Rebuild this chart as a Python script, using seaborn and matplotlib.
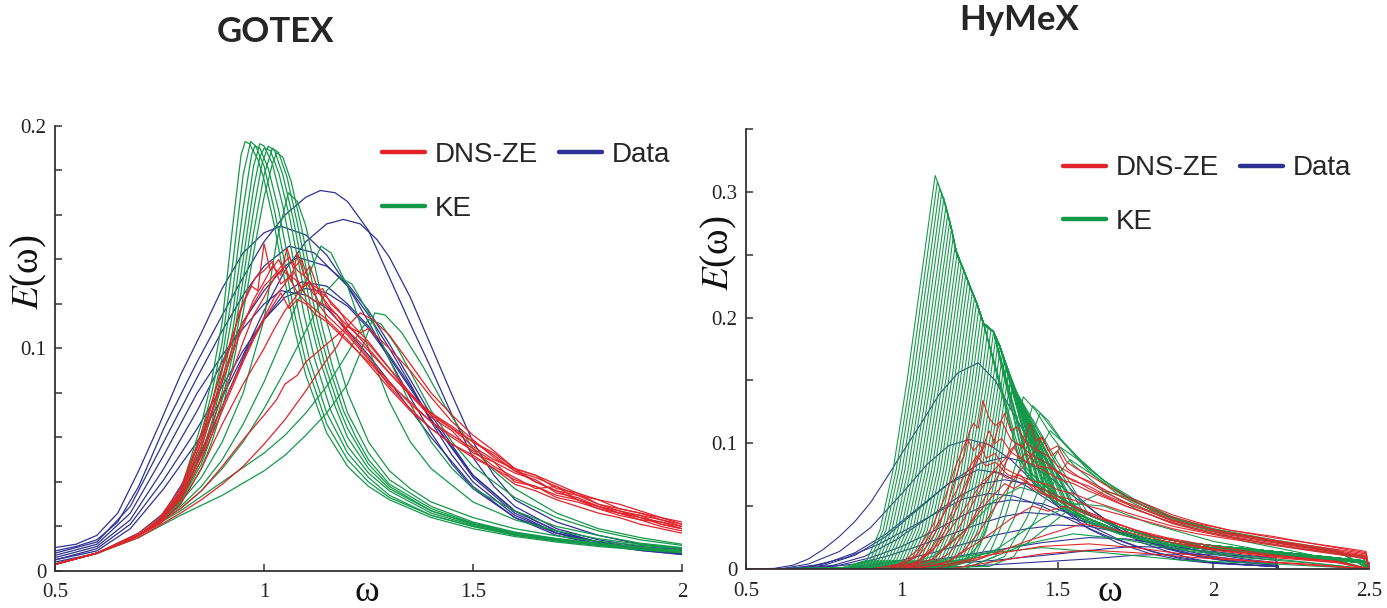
import numpy as np
import pandas as pd
import matplotlib
matplotlib.use("Agg")
import matplotlib.pyplot as plt
from matplotlib.lines import Line2D
from matplotlib.ticker import MultipleLocator
import seaborn as sns

# =========================
# Data: (omega, E) knots per curve
# =========================

RED = "#e2232a"
BLUE = "#2e3192"
GREEN = "#13994a"

# ---- GOTEX (left panel) ----
gotex_data = [
    [(0.5,.0105),(0.55,.012),(0.6,.016),(0.65,.026),(0.7,.045),(0.75,.066),(0.8,.088),(0.85,.107),(0.9,.127),(0.95,.143),(1.0,.152),(1.04,.155),(1.1,.151),(1.15,.142),(1.2,.128),(1.25,.112),(1.3,.095),(1.35,.078),(1.4,.062),(1.45,.048),(1.5,.037),(1.6,.024),(1.7,.017),(1.8,.013),(1.9,.0105),(2.0,.0088)],
    [(0.5,.009),(0.55,.011),(0.6,.014),(0.65,.022),(0.7,.038),(0.76,.064),(0.8,.079),(0.84,.094),(0.9,.115),(0.95,.132),(1.0,.148),(1.05,.16),(1.1,.168),(1.135,.171),(1.17,.17),(1.2,.166),(1.25,.153),(1.3,.132),(1.35,.111),(1.4,.091),(1.45,.07),(1.5,.051),(1.55,.038),(1.6,.029),(1.7,.019),(1.8,.014),(1.9,.011),(2.0,.0095)],
    [(0.5,.005),(0.6,.009),(0.68,.019),(0.76,.037),(0.84,.058),(0.9,.078),(0.95,.097),(1.0,.117),(1.05,.135),(1.1,.148),(1.15,.156),(1.19,.158),(1.23,.156),(1.27,.149),(1.3,.141),(1.35,.123),(1.4,.101),(1.45,.079),(1.5,.058),(1.55,.043),(1.6,.032),(1.7,.022),(1.8,.016),(1.9,.012),(2.0,.0098)],
    [(0.5,.008),(0.6,.013),(0.68,.029),(0.76,.058),(0.84,.087),(0.9,.108),(0.95,.124),(1.0,.137),(1.06,.146),(1.12,.143),(1.2,.128),(1.25,.115),(1.3,.1),(1.35,.084),(1.4,.067),(1.45,.052),(1.5,.04),(1.6,.025),(1.7,.017),(1.8,.013),(1.9,.01),(2.0,.0082)],
    [(0.5,.006),(0.6,.011),(0.68,.023),(0.76,.046),(0.84,.072),(0.9,.094),(0.95,.112),(1.0,.126),(1.05,.137),(1.08,.141),(1.15,.137),(1.2,.129),(1.25,.117),(1.3,.102),(1.35,.086),(1.4,.07),(1.5,.043),(1.6,.027),(1.7,.018),(1.8,.013),(1.9,.0102),(2.0,.0082)],
    [(0.5,.005),(0.6,.01),(0.68,.021),(0.76,.041),(0.84,.064),(0.9,.083),(0.95,.099),(1.0,.113),(1.05,.125),(1.09,.13),(1.15,.128),(1.2,.12),(1.25,.11),(1.3,.097),(1.35,.083),(1.4,.068),(1.5,.042),(1.6,.026),(1.7,.017),(1.8,.012),(1.9,.0092),(2.0,.0074)],
    [(0.5,.007),(0.6,.012),(0.68,.026),(0.76,.052),(0.84,.08),(0.9,.097),(0.95,.109),(1.0,.12),(1.04,.126),(1.1,.124),(1.15,.118),(1.2,.108),(1.25,.097),(1.3,.085),(1.4,.06),(1.5,.038),(1.6,.024),(1.7,.016),(1.8,.012),(1.9,.0093),(2.0,.0075)],
    [(0.5,.004),(0.6,.008),(0.7,.017),(0.76,.026),(0.84,.05),(0.9,.074),(0.96,.1),(1.0,.113),(1.05,.123),(1.1,.127),(1.15,.125),(1.2,.119),(1.25,.109),(1.3,.096),(1.4,.068),(1.5,.043),(1.6,.027),(1.7,.018),(1.8,.013),(1.9,.01),(2.0,.0078)],
]

gotex_ke = [
    [(0.5,.003),(0.6,.008),(0.7,.016),(0.75,.022),(0.8,.036),(0.85,.066),(0.875,.086),(0.9,.112),(0.925,.155),(0.945,.187),(0.955,.193),(0.965,.192),(0.985,.185),(1.0,.176),(1.025,.155),(1.05,.13),(1.075,.107),(1.1,.088),(1.15,.062),(1.2,.047),(1.25,.038),(1.3,.032),(1.4,.024),(1.5,.019),(1.6,.0155),(1.7,.013),(1.8,.011),(1.9,.0095),(2.0,.0082)],
    [(0.5,.003),(0.6,.008),(0.7,.016),(0.75,.022),(0.8,.035),(0.85,.062),(0.875,.08),(0.9,.103),(0.925,.138),(0.95,.178),(0.968,.193),(0.98,.191),(1.0,.182),(1.025,.162),(1.05,.138),(1.075,.114),(1.1,.094),(1.15,.066),(1.2,.05),(1.25,.04),(1.3,.033),(1.4,.025),(1.5,.02),(1.6,.016),(1.7,.0135),(1.8,.0115),(1.9,.0098),(2.0,.0085)],
    [(0.5,.003),(0.6,.008),(0.7,.016),(0.75,.022),(0.8,.034),(0.85,.058),(0.875,.075),(0.9,.096),(0.925,.126),(0.95,.163),(0.97,.187),(0.978,.191),(0.99,.19),(1.01,.181),(1.035,.162),(1.06,.138),(1.085,.114),(1.11,.094),(1.15,.071),(1.2,.053),(1.25,.042),(1.3,.034),(1.4,.025),(1.5,.02),(1.6,.0162),(1.7,.0136),(1.8,.0116),(1.9,.01),(2.0,.0086)],
    [(0.5,.003),(0.6,.008),(0.7,.016),(0.75,.022),(0.8,.033),(0.85,.055),(0.875,.071),(0.9,.09),(0.925,.116),(0.95,.15),(0.975,.182),(0.99,.192),(1.0,.191),(1.02,.183),(1.045,.164),(1.07,.14),(1.095,.116),(1.12,.096),(1.16,.072),(1.2,.056),(1.25,.044),(1.3,.036),(1.4,.026),(1.5,.0205),(1.6,.0165),(1.7,.0138),(1.8,.0118),(1.9,.0101),(2.0,.0087)],
    [(0.5,.003),(0.6,.008),(0.7,.016),(0.75,.022),(0.8,.032),(0.85,.052),(0.875,.067),(0.9,.085),(0.925,.108),(0.95,.14),(0.975,.172),(0.99,.186),(1.0,.19),(1.015,.189),(1.035,.179),(1.06,.16),(1.085,.136),(1.11,.113),(1.135,.094),(1.17,.074),(1.2,.06),(1.25,.046),(1.3,.037),(1.4,.027),(1.5,.021),(1.6,.0168),(1.7,.014),(1.8,.012),(1.9,.0103),(2.0,.0089)],
    [(0.5,.003),(0.6,.008),(0.7,.016),(0.75,.022),(0.8,.031),(0.85,.05),(0.875,.064),(0.9,.081),(0.925,.102),(0.95,.131),(0.975,.162),(0.995,.183),(1.01,.191),(1.025,.189),(1.045,.178),(1.07,.158),(1.095,.134),(1.12,.111),(1.145,.093),(1.18,.073),(1.2,.064),(1.25,.048),(1.3,.038),(1.4,.027),(1.5,.0212),(1.6,.017),(1.7,.0142),(1.8,.0121),(1.9,.0104),(2.0,.009)],
    [(0.5,.003),(0.6,.008),(0.7,.016),(0.75,.022),(0.8,.031),(0.85,.048),(0.875,.061),(0.9,.077),(0.925,.097),(0.95,.123),(0.975,.152),(1.0,.178),(1.02,.19),(1.035,.188),(1.055,.177),(1.08,.156),(1.105,.132),(1.13,.11),(1.155,.092),(1.19,.072),(1.22,.06),(1.25,.05),(1.3,.039),(1.4,.028),(1.5,.0215),(1.6,.0172),(1.7,.0144),(1.8,.0123),(1.9,.0105),(2.0,.0091)],
    [(0.5,.003),(0.6,.008),(0.7,.016),(0.75,.022),(0.8,.03),(0.85,.046),(0.875,.058),(0.9,.073),(0.925,.092),(0.95,.116),(0.975,.143),(1.0,.168),(1.02,.183),(1.03,.188),(1.045,.186),(1.065,.175),(1.09,.154),(1.115,.13),(1.14,.109),(1.165,.091),(1.2,.071),(1.25,.053),(1.3,.041),(1.4,.029),(1.5,.022),(1.6,.0175),(1.7,.0146),(1.8,.0125),(1.9,.0107),(2.0,.0093)],
    [(0.5,.003),(0.6,.008),(0.7,.016),(0.8,.031),(0.85,.042),(0.9,.058),(0.95,.08),(1.0,.113),(1.03,.148),(1.058,.17),(1.08,.166),(1.1,.155),(1.125,.134),(1.15,.112),(1.2,.08),(1.25,.058),(1.3,.045),(1.35,.037),(1.4,.031),(1.5,.024),(1.6,.019),(1.7,.0158),(1.8,.0133),(1.9,.0115),(2.0,.01)],
    [(0.5,.003),(0.6,.008),(0.7,.016),(0.8,.029),(0.85,.038),(0.9,.05),(0.95,.066),(1.0,.085),(1.05,.107),(1.1,.13),(1.136,.146),(1.16,.143),(1.2,.128),(1.25,.1),(1.3,.076),(1.35,.058),(1.4,.046),(1.5,.031),(1.6,.023),(1.7,.018),(1.8,.0145),(1.9,.012),(2.0,.0103)],
    [(0.5,.003),(0.6,.008),(0.7,.016),(0.8,.028),(0.85,.036),(0.9,.046),(0.95,.058),(1.0,.073),(1.05,.09),(1.1,.108),(1.15,.126),(1.18,.132),(1.21,.129),(1.25,.116),(1.3,.095),(1.35,.075),(1.4,.058),(1.45,.046),(1.5,.037),(1.6,.027),(1.7,.02),(1.8,.016),(1.9,.0125),(2.0,.0105)],
    [(0.5,.003),(0.6,.0078),(0.7,.015),(0.8,.025),(0.9,.034),(1.0,.045),(1.05,.052),(1.1,.061),(1.15,.071),(1.2,.084),(1.23,.098),(1.25,.108),(1.265,.116),(1.29,.115),(1.33,.107),(1.38,.092),(1.43,.075),(1.5,.055),(1.55,.045),(1.6,.037),(1.7,.026),(1.8,.019),(1.9,.015),(2.0,.012)],
    [(0.5,.003),(0.6,.008),(0.7,.016),(0.8,.027),(0.9,.04),(1.0,.053),(1.05,.061),(1.1,.071),(1.15,.083),(1.2,.098),(1.23,.108),(1.25,.113),(1.28,.111),(1.32,.1),(1.36,.086),(1.4,.072),(1.45,.058),(1.5,.047),(1.6,.033),(1.7,.024),(1.8,.018),(1.9,.014),(2.0,.0115)],
]

gotex_dns = [
    [(0.5,.003),(0.6,.008),(0.7,.016),(0.75,.023),(0.8,.036),(0.85,.06),(0.875,.075),(0.9,.092),(0.925,.106),(0.95,.12),(0.97,.128),(0.985,.126),(1.0,.147),(1.015,.135),(1.035,.14),(1.05,.134),(1.075,.131),(1.1,.124),(1.125,.121),(1.15,.115),(1.2,.106),(1.25,.095),(1.3,.085),(1.35,.075),(1.4,.067),(1.45,.06),(1.5,.054),(1.55,.047),(1.6,.042),(1.65,.037),(1.7,.038),(1.75,.032),(1.8,.029),(1.85,.026),(1.9,.025),(1.95,.021),(2.0,.019)],
    [(0.5,.003),(0.6,.008),(0.7,.016),(0.75,.022),(0.8,.034),(0.85,.056),(0.9,.085),(0.925,.098),(0.95,.11),(0.975,.122),(1.0,.13),(1.02,.137),(1.04,.133),(1.055,.145),(1.07,.136),(1.09,.14),(1.11,.129),(1.13,.127),(1.15,.119),(1.175,.115),(1.2,.108),(1.25,.099),(1.3,.089),(1.35,.079),(1.4,.071),(1.45,.064),(1.5,.058),(1.55,.052),(1.6,.045),(1.65,.042),(1.7,.038),(1.75,.034),(1.8,.032),(1.85,.028),(1.9,.026),(1.95,.024),(2.0,.021)],
    [(0.5,.003),(0.6,.008),(0.7,.016),(0.75,.022),(0.8,.033),(0.85,.053),(0.9,.079),(0.925,.09),(0.95,.103),(0.975,.115),(1.0,.123),(1.025,.132),(1.05,.137),(1.065,.13),(1.08,.143),(1.095,.133),(1.11,.137),(1.13,.126),(1.15,.123),(1.18,.117),(1.2,.111),(1.25,.1),(1.3,.089),(1.35,.079),(1.4,.069),(1.45,.063),(1.5,.053),(1.55,.049),(1.6,.04),(1.65,.038),(1.7,.033),(1.75,.031),(1.8,.028),(1.85,.025),(1.9,.023),(1.95,.02),(2.0,.018)],
    [(0.5,.003),(0.6,.008),(0.7,.016),(0.75,.022),(0.8,.032),(0.85,.05),(0.9,.072),(0.925,.083),(0.95,.094),(0.975,.104),(1.0,.113),(1.02,.119),(1.04,.125),(1.06,.118),(1.08,.122),(1.1,.12),(1.125,.115),(1.15,.112),(1.2,.103),(1.25,.094),(1.3,.084),(1.35,.076),(1.4,.067),(1.45,.061),(1.5,.055),(1.55,.049),(1.6,.044),(1.65,.041),(1.7,.035),(1.75,.033),(1.8,.029),(1.85,.027),(1.9,.024),(1.95,.022),(2.0,.02)],
    [(0.5,.003),(0.6,.008),(0.7,.016),(0.75,.023),(0.8,.035),(0.85,.058),(0.875,.072),(0.9,.087),(0.925,.1),(0.95,.112),(0.975,.12),(1.0,.128),(1.025,.133),(1.045,.138),(1.06,.141),(1.08,.135),(1.1,.132),(1.12,.127),(1.14,.123),(1.16,.118),(1.2,.11),(1.25,.102),(1.3,.091),(1.35,.079),(1.4,.071),(1.45,.065),(1.5,.058),(1.55,.053),(1.6,.046),(1.65,.043),(1.7,.039),(1.75,.035),(1.8,.032),(1.85,.03),(1.9,.027),(1.95,.024),(2.0,.022)],
    [(0.5,.003),(0.6,.008),(0.7,.016),(0.75,.022),(0.8,.033),(0.85,.052),(0.9,.074),(0.95,.095),(0.975,.105),(1.0,.114),(1.025,.123),(1.05,.129),(1.07,.135),(1.09,.127),(1.11,.13),(1.13,.121),(1.15,.119),(1.2,.107),(1.25,.096),(1.3,.083),(1.35,.073),(1.4,.064),(1.45,.057),(1.5,.051),(1.55,.046),(1.6,.039),(1.65,.036),(1.7,.032),(1.75,.029),(1.8,.026),(1.85,.024),(1.9,.021),(1.95,.019),(2.0,.017)],
    [(0.5,.003),(0.6,.008),(0.7,.016),(0.75,.021),(0.8,.03),(0.85,.046),(0.9,.066),(0.95,.084),(1.0,.1),(1.025,.109),(1.05,.117),(1.075,.123),(1.1,.13),(1.12,.124),(1.14,.127),(1.16,.12),(1.2,.113),(1.25,.103),(1.3,.091),(1.35,.08),(1.4,.07),(1.45,.064),(1.5,.056),(1.55,.05),(1.6,.046),(1.65,.04),(1.7,.036),(1.75,.034),(1.8,.03),(1.85,.027),(1.9,.025),(1.95,.023),(2.0,.02)],
    [(0.5,.003),(0.6,.008),(0.7,.015),(0.8,.026),(0.85,.032),(0.9,.039),(0.95,.047),(1.0,.057),(1.05,.068),(1.1,.081),(1.15,.095),(1.175,.101),(1.2,.11),(1.23,.116),(1.26,.113),(1.3,.106),(1.35,.093),(1.4,.08),(1.45,.07),(1.5,.061),(1.55,.054),(1.6,.046),(1.65,.043),(1.7,.037),(1.75,.035),(1.8,.03),(1.85,.028),(1.9,.026),(1.95,.023),(2.0,.021)],
    [(0.5,.003),(0.6,.008),(0.7,.016),(0.8,.028),(0.85,.036),(0.9,.047),(0.95,.059),(1.0,.07),(1.03,.077),(1.05,.084),(1.08,.088),(1.1,.094),(1.15,.102),(1.2,.11),(1.23,.107),(1.25,.109),(1.3,.1),(1.35,.09),(1.4,.078),(1.45,.067),(1.5,.059),(1.55,.051),(1.6,.045),(1.65,.04),(1.7,.036),(1.75,.032),(1.8,.029),(1.85,.026),(1.9,.023),(1.95,.022),(2.0,.019)],
    [(0.5,.003),(0.6,.008),(0.7,.017),(0.75,.024),(0.8,.037),(0.85,.062),(0.875,.076),(0.9,.091),(0.925,.104),(0.94,.116),(0.96,.125),(0.98,.132),(1.0,.135),(1.02,.139),(1.04,.129),(1.06,.132),(1.08,.125),(1.1,.121),(1.15,.113),(1.2,.104),(1.25,.093),(1.3,.082),(1.35,.072),(1.4,.064),(1.45,.057),(1.5,.052),(1.55,.046),(1.6,.041),(1.65,.038),(1.7,.034),(1.75,.032),(1.8,.028),(1.85,.026),(1.9,.024),(1.95,.021),(2.0,.019)],
]

# ---- HyMeX (right panel) ----
hymex_data = [
    [(0.5,0),(0.59,.0005),(0.65,.003),(0.7,.008),(0.75,.016),(0.8,.026),(0.85,.038),(0.9,.053),(0.96,.076),(1.0,.092),(1.07,.119),(1.12,.139),(1.18,.156),(1.245,.164),(1.3,.15),(1.35,.127),(1.395,.108),(1.44,.094),(1.482,.081),(1.555,.06),(1.62,.045),(1.7,.031),(1.77,.021),(1.845,.0146),(1.92,.009),(1.99,.0055),(2.1,.0035),(2.2,.002),(2.21,0)],
    [(0.5,0),(0.62,.0005),(0.7,.004),(0.8,.014),(0.9,.033),(1.0,.06),(1.08,.083),(1.15,.098),(1.216,.103),(1.28,.099),(1.35,.087),(1.42,.07),(1.5,.05),(1.6,.032),(1.7,.02),(1.8,.012),(1.9,.007),(2.0,.0045),(2.2,.002),(2.21,0)],
    [(0.5,0),(0.65,.0005),(0.75,.004),(0.85,.013),(0.95,.028),(1.05,.048),(1.15,.068),(1.25,.084),(1.33,.089),(1.4,.085),(1.48,.072),(1.55,.058),(1.65,.04),(1.75,.026),(1.85,.016),(1.95,.01),(2.05,.006),(2.2,.003),(2.21,0)],
    [(0.5,0),(0.66,.0005),(0.75,.003),(0.85,.011),(0.95,.026),(1.05,.047),(1.15,.068),(1.245,.079),(1.32,.076),(1.4,.066),(1.5,.05),(1.6,.035),(1.7,.023),(1.8,.014),(1.9,.008),(2.0,.005),(2.2,.002),(2.21,0)],
    [(0.5,0),(0.68,.0005),(0.78,.003),(0.88,.01),(0.98,.023),(1.08,.04),(1.18,.057),(1.26,.068),(1.33,.071),(1.42,.067),(1.5,.058),(1.6,.044),(1.7,.031),(1.8,.021),(1.9,.013),(2.0,.008),(2.1,.005),(2.2,.003),(2.21,0)],
    [(0.5,0),(0.7,.0005),(0.8,.003),(0.9,.009),(1.0,.018),(1.1,.03),(1.2,.043),(1.28,.052),(1.35,.055),(1.45,.052),(1.55,.043),(1.65,.033),(1.75,.024),(1.85,.017),(1.95,.011),(2.05,.007),(2.2,.004),(2.21,0)],
    [(0.5,0),(0.72,.0005),(0.85,.004),(0.95,.01),(1.05,.018),(1.15,.027),(1.25,.036),(1.33,.042),(1.4,.045),(1.5,.043),(1.6,.037),(1.7,.029),(1.8,.021),(1.9,.015),(2.0,.01),(2.1,.007),(2.2,.005),(2.21,0)],
    [(0.5,0),(0.8,.0005),(0.9,.003),(1.0,.007),(1.1,.013),(1.2,.02),(1.3,.027),(1.4,.032),(1.5,.035),(1.6,.034),(1.7,.029),(1.8,.023),(1.9,.017),(2.0,.012),(2.1,.008),(2.2,.005),(2.21,0)],
    [(0.5,0),(0.85,.0005),(1.0,.004),(1.15,.009),(1.3,.015),(1.45,.021),(1.6,.025),(1.72,.024),(1.85,.019),(1.95,.015),(2.05,.011),(2.2,.007),(2.21,0)],
    [(0.5,0),(0.9,.0005),(1.1,.003),(1.3,.007),(1.5,.012),(1.65,.016),(1.75,.018),(1.85,.017),(2.0,.014),(2.1,.011),(2.2,.009),(2.21,0)],
    [(0.5,0),(1.0,.0005),(1.2,.002),(1.4,.005),(1.6,.008),(1.75,.011),(1.9,.012),(2.05,.011),(2.2,.009),(2.21,0)],
    [(0.5,0),(0.64,.0005),(0.72,.003),(0.82,.009),(0.92,.019),(1.02,.032),(1.12,.046),(1.2,.056),(1.28,.06),(1.36,.058),(1.45,.05),(1.55,.038),(1.65,.027),(1.75,.018),(1.85,.011),(1.95,.007),(2.05,.004),(2.2,.002),(2.21,0)],
]

hymex_dns = [
    [(0.5,0),(0.9,0),(1.0,.004),(1.05,.01),(1.08,.018),(1.11,.03),(1.145,.05),(1.17,.07),(1.187,.084),(1.2,.09),(1.215,.108),(1.23,.116),(1.245,.112),(1.26,.134),(1.28,.12),(1.3,.114),(1.32,.118),(1.35,.103),(1.38,.098),(1.42,.09),(1.46,.085),(1.5,.078),(1.55,.07),(1.6,.066),(1.66,.058),(1.72,.052),(1.8,.045),(1.87,.038),(1.95,.034),(2.05,.029),(2.19,.023),(2.3,.019),(2.44,.014),(2.49,.012),(2.5,0)],
    [(0.5,0),(0.95,0),(1.05,.005),(1.1,.015),(1.15,.035),(1.2,.06),(1.23,.08),(1.25,.09),(1.27,.1),(1.29,.097),(1.31,.113),(1.33,.124),(1.35,.11),(1.37,.113),(1.4,.1),(1.43,.095),(1.47,.09),(1.5,.082),(1.55,.075),(1.6,.07),(1.66,.062),(1.72,.056),(1.8,.048),(1.87,.041),(1.95,.036),(2.05,.031),(2.19,.025),(2.3,.021),(2.44,.015),(2.49,.013),(2.5,0)],
    [(0.5,0),(1.0,0),(1.1,.008),(1.15,.02),(1.2,.04),(1.25,.062),(1.3,.08),(1.33,.087),(1.35,.095),(1.37,.1),(1.39,.097),(1.41,.116),(1.43,.102),(1.45,.105),(1.48,.09),(1.5,.094),(1.53,.08),(1.57,.073),(1.62,.066),(1.66,.06),(1.72,.053),(1.8,.046),(1.87,.039),(1.95,.034),(2.05,.028),(2.19,.023),(2.3,.018),(2.44,.013),(2.49,.011),(2.5,0)],
    [(0.5,0),(0.95,0),(1.0,.005),(1.05,.015),(1.1,.035),(1.14,.058),(1.17,.08),(1.19,.092),(1.21,.104),(1.23,.094),(1.25,.1),(1.27,.088),(1.3,.092),(1.33,.08),(1.37,.075),(1.42,.07),(1.47,.067),(1.5,.063),(1.55,.06),(1.6,.055),(1.66,.05),(1.72,.045),(1.8,.039),(1.87,.034),(1.95,.03),(2.05,.025),(2.19,.02),(2.3,.016),(2.44,.011),(2.49,.009),(2.5,0)],
    [(0.5,0),(1.05,0),(1.15,.006),(1.2,.015),(1.25,.03),(1.3,.05),(1.35,.068),(1.4,.085),(1.43,.095),(1.45,.105),(1.47,.094),(1.5,.098),(1.53,.085),(1.56,.08),(1.6,.075),(1.66,.066),(1.72,.058),(1.8,.05),(1.87,.043),(1.95,.037),(2.05,.031),(2.19,.026),(2.3,.021),(2.44,.016),(2.49,.014),(2.5,0)],
    [(0.5,0),(1.0,0),(1.05,.006),(1.1,.018),(1.15,.04),(1.2,.065),(1.24,.088),(1.26,.097),(1.28,.11),(1.3,.1),(1.32,.104),(1.35,.093),(1.38,.088),(1.42,.083),(1.46,.078),(1.5,.072),(1.55,.068),(1.6,.062),(1.66,.056),(1.72,.05),(1.8,.043),(1.87,.037),(1.95,.032),(2.05,.027),(2.19,.022),(2.3,.017),(2.44,.012),(2.49,.01),(2.5,0)],
    [(0.5,0),(1.0,0),(1.1,.005),(1.15,.012),(1.2,.028),(1.25,.05),(1.3,.07),(1.33,.083),(1.36,.097),(1.38,.088),(1.4,.092),(1.44,.082),(1.48,.08),(1.52,.074),(1.56,.07),(1.6,.064),(1.66,.057),(1.72,.05),(1.8,.043),(1.87,.036),(1.95,.031),(2.05,.026),(2.19,.021),(2.3,.017),(2.44,.012),(2.49,.01),(2.5,0)],
    [(0.5,0),(0.95,0),(1.0,.003),(1.05,.012),(1.1,.03),(1.15,.05),(1.2,.074),(1.24,.09),(1.27,.082),(1.3,.085),(1.34,.075),(1.38,.072),(1.42,.066),(1.46,.063),(1.5,.058),(1.55,.055),(1.6,.05),(1.66,.046),(1.72,.042),(1.8,.037),(1.87,.032),(1.95,.028),(2.05,.024),(2.19,.019),(2.3,.015),(2.44,.01),(2.49,.008),(2.5,0)],
    [(0.5,0),(1.0,0),(1.1,.008),(1.2,.03),(1.28,.055),(1.33,.068),(1.36,.064),(1.4,.07),(1.45,.06),(1.5,.055),(1.6,.045),(1.7,.035),(1.8,.027),(1.9,.021),(2.0,.016),(2.2,.01),(2.4,.005),(2.5,0)],
    [(0.5,0),(1.05,0),(1.15,.006),(1.25,.022),(1.35,.04),(1.42,.05),(1.47,.046),(1.52,.05),(1.6,.043),(1.7,.035),(1.8,.027),(1.9,.021),(2.0,.016),(2.2,.01),(2.4,.006),(2.5,0)],
    [(0.5,0),(1.1,0),(1.25,.008),(1.4,.022),(1.5,.03),(1.58,.036),(1.65,.033),(1.75,.028),(1.85,.022),(2.0,.015),(2.2,.009),(2.4,.005),(2.5,0)],
    [(0.5,0),(1.0,0),(1.15,.004),(1.3,.012),(1.45,.018),(1.6,.02),(1.75,.017),(1.9,.012),(2.1,.007),(2.3,.004),(2.5,0)],
    [(0.5,0),(0.98,0),(1.05,.006),(1.12,.02),(1.18,.04),(1.22,.055),(1.26,.07),(1.3,.078),(1.34,.072),(1.38,.075),(1.42,.064),(1.48,.058),(1.55,.05),(1.65,.04),(1.75,.031),(1.85,.025),(2.0,.018),(2.2,.011),(2.4,.006),(2.5,0)],
    [(0.5,0),(1.15,0),(1.3,.006),(1.45,.012),(1.6,.015),(1.75,.013),(1.95,.009),(2.2,.005),(2.5,0)],
]

# KE fan: rising flank up to the peak, then the shared ridge, then the tail band
hymex_ke_flanks = [
    [(0.5,0),(0.8,.0005),(0.888,.007),(0.93,.031),(0.972,.079),(1.017,.15),(1.107,.313)],
    [(0.5,0),(0.81,.0005),(0.898,.007),(0.94,.031),(0.982,.079),(1.027,.15),(1.114,.308)],
    [(0.5,0),(0.819,.0005),(0.907,.007),(0.949,.031),(0.991,.079),(1.036,.15),(1.121,.303)],
    [(0.5,0),(0.829,.0005),(0.917,.007),(0.959,.031),(1.001,.079),(1.046,.15),(1.128,.299)],
    [(0.5,0),(0.838,.0005),(0.926,.007),(0.968,.031),(1.01,.079),(1.055,.15),(1.135,.295)],
    [(0.5,0),(0.848,.0005),(0.936,.007),(0.978,.031),(1.02,.079),(1.065,.15),(1.142,.289)],
    [(0.5,0),(0.857,.0005),(0.945,.007),(0.987,.031),(1.029,.079),(1.074,.15),(1.148,.283)],
    [(0.5,0),(0.867,.0005),(0.955,.007),(0.997,.031),(1.039,.079),(1.084,.15),(1.154,.277)],
    [(0.5,0),(0.876,.0005),(0.964,.007),(1.006,.031),(1.048,.079),(1.093,.15),(1.159,.27)],
    [(0.5,0),(0.886,.0005),(0.974,.007),(1.016,.031),(1.058,.079),(1.103,.15),(1.165,.264)],
    [(0.5,0),(0.895,.0005),(0.983,.007),(1.025,.031),(1.067,.079),(1.112,.15),(1.171,.257)],
    [(0.5,0),(0.905,.0005),(0.993,.007),(1.035,.031),(1.077,.079),(1.122,.15),(1.178,.252)],
    [(0.5,0),(0.914,.0005),(1.002,.007),(1.044,.031),(1.086,.079),(1.131,.15),(1.184,.246)],
    [(0.5,0),(0.924,.0005),(1.012,.007),(1.054,.031),(1.096,.079),(1.141,.15),(1.191,.242)],
    [(0.5,0),(0.933,.0005),(1.021,.007),(1.063,.031),(1.105,.079),(1.15,.15),(1.198,.238)],
    [(0.5,0),(0.943,.0005),(1.031,.007),(1.073,.031),(1.115,.079),(1.16,.15),(1.205,.234)],
    [(0.5,0),(0.952,.0005),(1.04,.007),(1.082,.031),(1.124,.079),(1.169,.15),(1.212,.23)],
    [(0.5,0),(0.962,.0005),(1.05,.007),(1.092,.031),(1.134,.079),(1.179,.15),(1.219,.225)],
    [(0.5,0),(0.971,.0005),(1.059,.007),(1.101,.031),(1.143,.079),(1.188,.15),(1.226,.22)],
    [(0.5,0),(0.981,.0005),(1.069,.007),(1.111,.031),(1.153,.079),(1.198,.15),(1.233,.216)],
    [(0.5,0),(0.99,.0005),(1.078,.007),(1.12,.031),(1.162,.079),(1.207,.15),(1.24,.212)],
    [(0.5,0),(1.0,.0005),(1.088,.007),(1.13,.031),(1.172,.079),(1.217,.15),(1.247,.207)],
    [(0.5,0),(1.009,.0005),(1.097,.007),(1.139,.031),(1.181,.079),(1.226,.15),(1.254,.202)],
    [(0.5,0),(1.019,.0005),(1.107,.007),(1.149,.031),(1.191,.079),(1.236,.15),(1.261,.198)],
    [(0.5,0),(1.028,.0005),(1.116,.007),(1.158,.031),(1.2,.079),(1.245,.15),(1.267,.193)],
    [(0.5,0),(1.038,.0005),(1.126,.007),(1.168,.031),(1.21,.079),(1.255,.15),(1.277,.192)],
    [(0.5,0),(1.047,.0005),(1.135,.007),(1.177,.031),(1.219,.079),(1.264,.15),(1.286,.19)],
    [(0.5,0),(1.057,.0005),(1.145,.007),(1.187,.031),(1.229,.079),(1.274,.15),(1.294,.188)],
    [(0.5,0),(1.066,.0005),(1.154,.007),(1.196,.031),(1.238,.079),(1.283,.15),(1.302,.185)],
    [(0.5,0),(1.076,.0005),(1.164,.007),(1.206,.031),(1.248,.079),(1.293,.15),(1.309,.181)],
    [(0.5,0),(1.085,.0005),(1.173,.007),(1.215,.031),(1.257,.079),(1.302,.15),(1.316,.176)],
    [(0.5,0),(1.095,.0005),(1.183,.007),(1.225,.031),(1.267,.079),(1.312,.15),(1.323,.171)],
    [(0.5,0),(1.104,.0005),(1.192,.007),(1.234,.031),(1.276,.079),(1.321,.15),(1.329,.166)],
    [(0.5,0),(1.114,.0005),(1.202,.007),(1.244,.031),(1.286,.079),(1.336,.162)],
    [(0.5,0),(1.123,.0005),(1.211,.007),(1.253,.031),(1.295,.079),(1.343,.157)],
    [(0.5,0),(1.133,.0005),(1.221,.007),(1.263,.031),(1.305,.079),(1.35,.152)],
    [(0.5,0),(1.142,.0005),(1.23,.007),(1.272,.031),(1.314,.079),(1.356,.146)],
]
hymex_ke_ridge = [(1.107,.313),(1.133,.295),(1.144,.2856),(1.16,.2697),(1.176,.251),(1.198,.238),
                  (1.219,.2246),(1.241,.211),(1.262,.1955),(1.294,.1888),(1.315,.1769),(1.337,.161),(1.358,.145)]
hymex_ke_leave = [1.262, 1.262, 1.262, 1.294, 1.294, 1.294, 1.294, 1.294, 1.294, 1.315,
                  1.315, 1.315, 1.315, 1.315, 1.315, 1.337, 1.337, 1.337, 1.337, 1.337,
                  1.337, 1.337, 1.337, 1.358, 1.358, 1.358, 1.358, 1.358, 1.358, 1.358,
                  1.358, 1.358, 1.358, 1.358, 1.358, 1.358, 1.358]
hymex_ke_join = [1.38, 1.38, 1.40, 1.40, 1.40, 1.42, 1.42, 1.42, 1.42, 1.44,
                 1.44, 1.44, 1.44, 1.46, 1.46, 1.46, 1.46, 1.48, 1.48, 1.48,
                 1.48, 1.50, 1.50, 1.50, 1.50, 1.50, 1.50, 1.53, 1.53, 1.53,
                 1.53, 1.56, 1.56, 1.56, 1.56, 1.60, 1.60]
hymex_band_w = [1.38, 1.40, 1.42, 1.44, 1.46, 1.48, 1.50, 1.53, 1.56, 1.60,
                1.70, 1.80, 1.90, 2.00, 2.10, 2.20, 2.30, 2.40, 2.48, 2.50]
hymex_band_a = [.086, .080, .075, .070, .066, .062, .058, .053, .048, .043,
                .033, .026, .0215, .0185, .0163, .0138, .0112, .0087, .0066, 0]
hymex_band_b = [.083, .077, .072, .067, .063, .059, .055, .050, .045, .040,
                .030, .0235, .0195, .0168, .0148, .0125, .0100, .0076, .0058, 0]
hymex_band_c = [.080, .074, .069, .064, .060, .056, .052, .047, .043, .037,
                .028, .0215, .018, .0153, .0134, .0112, .0090, .0068, .0051, 0]

hymex_ke_other = [
    [(0.5,0),(1.1,.001),(1.2,.006),(1.25,.02),(1.3,.05),(1.35,.1),(1.39,.137),(1.43,.126),(1.48,.106),(1.55,.083),(1.65,.062),(1.75,.048),(1.85,.038),(2.0,.028),(2.2,.019),(2.4,.012),(2.48,.009),(2.5,0)],
    [(0.5,0),(1.15,.002),(1.25,.01),(1.3,.03),(1.35,.07),(1.42,.13),(1.47,.118),(1.52,.1),(1.6,.078),(1.7,.058),(1.8,.045),(1.9,.036),(2.0,.03),(2.2,.021),(2.4,.013),(2.48,.01),(2.5,0)],
    [(0.5,0),(1.2,.002),(1.28,.012),(1.33,.04),(1.39,.09),(1.444,.124),(1.5,.106),(1.56,.09),(1.65,.07),(1.75,.053),(1.85,.042),(2.0,.031),(2.2,.022),(2.4,.014),(2.5,0)],
    [(0.5,0),(1.22,.002),(1.3,.01),(1.36,.04),(1.42,.085),(1.476,.11),(1.53,.098),(1.6,.08),(1.7,.061),(1.8,.047),(1.9,.038),(2.0,.032),(2.2,.022),(2.4,.014),(2.5,0)],
    [(0.5,0),(1.25,.002),(1.33,.01),(1.4,.04),(1.46,.075),(1.508,.097),(1.56,.088),(1.65,.07),(1.75,.055),(1.85,.043),(2.0,.032),(2.2,.023),(2.4,.015),(2.5,0)],
    [(0.5,0),(1.28,.002),(1.36,.01),(1.43,.04),(1.5,.075),(1.54,.087),(1.6,.077),(1.7,.06),(1.8,.047),(1.9,.037),(2.0,.031),(2.2,.022),(2.4,.014),(2.5,0)],
    [(0.5,0),(1.0,0),(1.2,.008),(1.4,.02),(1.55,.028),(1.7,.024),(1.9,.015),(2.1,.009),(2.3,.005),(2.5,0)],
    [(0.5,0),(1.1,0),(1.3,.015),(1.45,.04),(1.55,.052),(1.65,.05),(1.8,.036),(2.0,.022),(2.2,.013),(2.4,.007),(2.5,0)],
    [(0.5,0),(0.9,0),(1.05,.004),(1.25,.012),(1.45,.017),(1.65,.013),(1.9,.007),(2.2,.004),(2.5,0)],
    [(0.5,0),(1.2,0),(1.4,.02),(1.55,.05),(1.65,.062),(1.75,.055),(1.9,.038),(2.1,.022),(2.3,.012),(2.5,0)],
    [(0.5,0),(0.95,0),(1.1,.01),(1.2,.03),(1.3,.055),(1.38,.065),(1.45,.06),(1.55,.045),(1.7,.028),(1.9,.016),(2.2,.008),(2.5,0)],
]

# =========================
# Build long tables for seaborn
# =========================

hymex_bands = [hymex_band_a, hymex_band_b, hymex_band_c]
hymex_ke = []
for k, flank in enumerate(hymex_ke_flanks):
    w_peak = flank[-1][0]
    pts = list(flank)
    pts += [p for p in hymex_ke_ridge if w_peak < p[0] <= hymex_ke_leave[k]]
    band = hymex_bands[k % 3]
    pts += [(w, e) for w, e in zip(hymex_band_w, band) if w >= hymex_ke_join[k]]
    hymex_ke.append(pts)
hymex_ke += hymex_ke_other


def to_frame(curves, name):
    rows = []
    for i, curve in enumerate(curves):
        for w, e in curve:
            rows.append((name, f"{name}_{i}", w, e))
    return pd.DataFrame(rows, columns=["family", "curve", "omega", "E"])


# =========================
# Plot
# =========================

sns.set_theme(style="ticks")
plt.rcParams["font.family"] = ["Liberation Serif", "DejaVu Serif"]
plt.rcParams["mathtext.fontset"] = "stix"

fig = plt.figure(figsize=(13.87, 6.08), dpi=100)
ax1 = fig.add_axes([0.0397, 0.0609, 0.452, 0.7319])
ax2 = fig.add_axes([0.5379, 0.0641, 0.4492, 0.7237])

panels = [
    (ax1, [(gotex_data, "data", BLUE), (gotex_ke, "ke", GREEN), (gotex_dns, "dns", RED)], 0.9),
    (ax2, [(hymex_data, "data", BLUE), (hymex_ke, "ke", GREEN), (hymex_dns, "dns", RED)], 0.78),
]
for ax, layers, lw in panels:
    for curves, name, color in layers:
        sns.lineplot(data=to_frame(curves, name), x="omega", y="E", units="curve",
                     estimator=None, sort=False, color=color, lw=lw, ax=ax, legend=False)
    ax.set_xlabel("")
    ax.set_ylabel("")
    sns.despine(ax=ax)
    for sp in ["left", "bottom"]:
        ax.spines[sp].set_linewidth(1.3)
        ax.spines[sp].set_color("#333333")
    ax.tick_params(which="both", direction="in", length=5, width=1.1,
                   colors="#333333", labelcolor="#222222", labelsize=15)
    ax.tick_params(axis="y", pad=6)
    ax.tick_params(axis="x", pad=9)

# left axes ticks
ax1.set_xlim(0.5, 2.0)
ax1.set_ylim(0, 0.2)
ax1.set_xticks([0.5, 1, 1.5, 2])
ax1.set_xticklabels(["0.5", "1", "1.5", "2"])
ax1.set_yticks([0, 0.1, 0.2])
ax1.set_yticklabels(["0", "0.1", "0.2"])
ax1.yaxis.set_minor_locator(MultipleLocator(0.02))

# right axes ticks
ax2.set_xlim(0.5, 2.5)
ax2.set_ylim(0, 0.35)
ax2.set_xticks([0.5, 1, 1.5, 2, 2.5])
ax2.set_xticklabels(["0.5", "1", "1.5", "2", "2.5"])
ax2.set_yticks([0, 0.1, 0.2, 0.3])
ax2.set_yticklabels(["0", "0.1", "0.2", "0.3"])
ax2.yaxis.set_minor_locator(MultipleLocator(0.05))

# axis labels
for ax, xl, yl in [(ax1, (0.497, -0.046), (-0.0415, 0.672)),
                   (ax2, (0.584, -0.052), (-0.0433, 0.718))]:
    ax.text(xl[0], xl[1], "ω", transform=ax.transAxes, ha="center", va="center",
            fontsize=27, color="#111111")
    ax.text(yl[0], yl[1], r"$E$(ω)", transform=ax.transAxes, ha="center", va="center",
            rotation=90, fontsize=28, color="#111111")

# legends
handles = [Line2D([0], [0], color=RED, lw=3.2, label="DNS-ZE"),
           Line2D([0], [0], color=GREEN, lw=3.2, label="KE"),
           Line2D([0], [0], color=BLUE, lw=3.2, label="Data")]
for ax, anchor in [(ax1, (0.5215, 0.964)), (ax2, (0.509, 0.940))]:
    ax.legend(handles=handles, ncol=2, frameon=False, loc="upper left",
              bbox_to_anchor=anchor, borderaxespad=0, borderpad=0,
              handlelength=1.55, handletextpad=0.35, columnspacing=0.75,
              labelspacing=1.0,
              prop={"family": ["Liberation Sans", "DejaVu Sans"], "size": 20})

# titles
fig.text(0.1983, 0.9309, "GOTEX", ha="center", va="baseline", fontsize=25,
         fontweight="bold", family=["Lato", "DejaVu Sans"])
fig.text(0.7350, 0.9507, "HyMeX", ha="center", va="baseline", fontsize=25,
         fontweight="bold", family=["Lato", "DejaVu Sans"])

fig.savefig("out.png", dpi=100)
